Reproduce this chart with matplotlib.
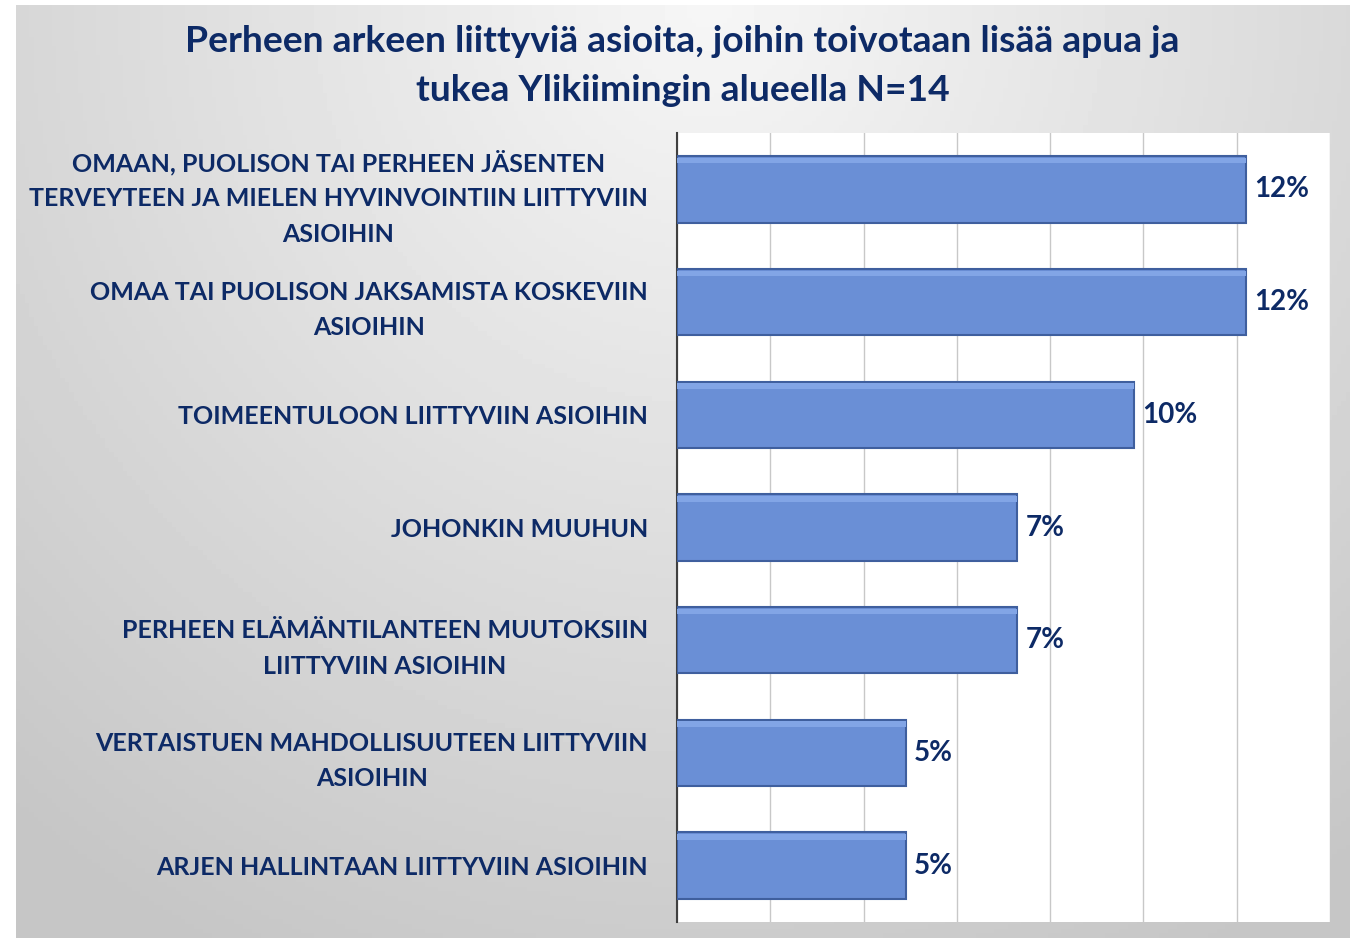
import numpy as np
import matplotlib.pyplot as plt

plt.rcParams['font.family'] = ['Lato', 'DejaVu Sans']

categories = [
    "OMAAN, PUOLISON TAI PERHEEN JÄSENTEN\nTERVEYTEEN JA MIELEN HYVINVOINTIIN LIITTYVIIN\nASIOIHIN",
    "OMAA TAI PUOLISON JAKSAMISTA KOSKEVIIN\nASIOIHIN",
    "TOIMEENTULOON LIITTYVIIN ASIOIHIN",
    "JOHONKIN MUUHUN",
    "PERHEEN ELÄMÄNTILANTEEN MUUTOKSIIN\nLIITTYVIIN ASIOIHIN",
    "VERTAISTUEN MAHDOLLISUUTEEN LIITTYVIIN\nASIOIHIN",
    "ARJEN HALLINTAAN LIITTYVIIN ASIOIHIN",
]
values = [12.2, 12.2, 9.8, 7.3, 7.3, 4.9, 4.9]
value_labels = ["12%", "12%", "10%", "7%", "7%", "5%", "5%"]
title = "Perheen arkeen liittyviä asioita, joihin toivotaan lisää apua ja\ntukea Ylikiimingin alueella N=14"

navy = '#0d2a66'
bar_color = '#6a8fd6'

fig = plt.figure(figsize=[13.5, 9.38], dpi=100)

# gray gradient background of the chart area
bg = fig.add_axes([16/1350, 0, 1 - 16/1350, 1 - 5/938])
yy, xx = np.mgrid[0:1:200j, 0:1:300j]
d = np.sqrt(((xx - 0.52) / 0.8) ** 2 + ((yy - 1.0) / 1.15) ** 2)
shade = 0.965 - 0.19 * np.clip(d, 0, 1)
bg.imshow(shade, cmap='gray', vmin=0, vmax=1, origin='lower', extent=[0, 1, 0, 1], aspect='auto')
bg.set_axis_off()

fig.text(0.5056, 1 - 66/938, title, ha='center', va='center', fontsize=26.8,
         fontweight='bold', color=navy, linespacing=1.6)

ax = fig.add_axes([677/1350, 16/938, (1330-677)/1350, (922-133)/938])
ax.set_facecolor('white')
y = np.arange(len(categories))
ax.barh(y, values, height=0.59, color=bar_color, edgecolor='#3f5f9e', linewidth=1.5, zorder=3)
# lighter top highlight of the bevel
ax.barh(y - 0.255, values, height=0.05, color='#82a5e6', linewidth=0, zorder=4)

for yi, v, lab in zip(y, values, value_labels):
    ax.text(v + 0.18, yi, lab, va='center', ha='left', fontsize=20, fontweight='bold', color=navy)

ax.set_xlim(0, 14)
ax.set_ylim(len(categories) - 0.5, -0.5)
ax.set_xticks(np.arange(0, 15, 2))
ax.xaxis.grid(True, color='#c8c8c8', linewidth=1, zorder=0)
ax.tick_params(axis='x', length=0, labelbottom=False)
ax.set_yticks(y)
ax.set_yticklabels(categories, fontsize=18, fontweight='bold', color=navy,
                   multialignment='center', linespacing=1.65)
ax.tick_params(axis='y', length=0, pad=21)
for s in ['top', 'right', 'bottom']:
    ax.spines[s].set_visible(False)
ax.spines['left'].set_color('#404040')
ax.spines['left'].set_linewidth(1.5)

fig.savefig('out.png', dpi=100)
